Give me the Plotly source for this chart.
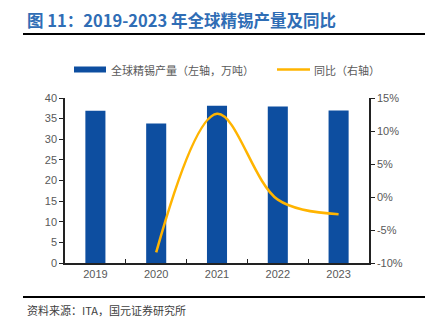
import plotly.graph_objects as go

years = ["2019", "2020", "2021", "2022", "2023"]
production = [36.9, 33.8, 38.1, 37.95, 37.0]
yoy_years = ["2020", "2021", "2022", "2023"]
yoy = [-8.4, 12.6, -0.4, -2.6]

left_ticks = [0, 5, 10, 15, 20, 25, 30, 35, 40]
right_ticks = [-10, -5, 0, 5, 10, 15]
right_labels = ["-10%", "-5%", "0%", "5%", "10%", "15%"]

BLUE = "#0D4EA0"
YELLOW = "#FFB400"
GRAY = "#595959"
CJK = "Noto Sans CJK SC"

W, H = 435, 322
L, R, T, B = 65, 369, 98, 263
pw, ph = R - L, B - T

def px(x):
    return (x - L) / pw

def py(y):
    return (B - y) / ph

fig = go.Figure()
fig.add_trace(go.Bar(x=years, y=production, marker=dict(color=BLUE, line=dict(width=0)),
                     width=0.33, name="全球精锡产量（左轴，万吨）", showlegend=False))
fig.add_trace(go.Scatter(x=yoy_years, y=yoy, mode="lines", yaxis="y2",
                         line=dict(color=YELLOW, width=2.5, shape="spline", smoothing=1.0),
                         name="同比（右轴）", showlegend=False))

axis_font = dict(family="Liberation Sans, Arial", size=11, color=GRAY)

fig.update_layout(
    width=W, height=H,
    margin=dict(l=L, r=W - R, t=T, b=H - B),
    paper_bgcolor="white", plot_bgcolor="white",
    xaxis=dict(type="category", showgrid=False, showline=True, linecolor="#222222", linewidth=1.5,
               ticks="inside", tickson="boundaries", ticklen=4, tickcolor="#222222",
               tickfont=axis_font, zeroline=False),
    yaxis=dict(range=[0, 40], tickvals=left_ticks, showgrid=False, showline=True,
               linecolor="#222222", linewidth=1.5, ticks="outside", ticklen=4,
               tickcolor="#222222", tickfont=axis_font, zeroline=False),
    yaxis2=dict(range=[-10, 15], tickvals=right_ticks, ticktext=right_labels, overlaying="y",
                side="right", showgrid=False, showline=True, linecolor="#222222", linewidth=1.5,
                ticks="outside", ticklen=4, tickcolor="#222222", tickfont=axis_font,
                zeroline=False),
    bargap=0.67,
)

shapes = [
    dict(type="line", xref="paper", yref="paper", x0=px(23), x1=px(425), y0=py(34), y1=py(34),
         line=dict(color="black", width=2)),
    dict(type="line", xref="paper", yref="paper", x0=px(23), x1=px(425), y0=py(297), y1=py(297),
         line=dict(color="black", width=2)),
    dict(type="rect", xref="paper", yref="paper", x0=px(74), x1=px(106), y0=py(72.5), y1=py(66.5),
         fillcolor=BLUE, line=dict(width=0)),
    dict(type="line", xref="paper", yref="paper", x0=px(277), x1=px(310), y0=py(69.5), y1=py(69.5),
         line=dict(color=YELLOW, width=2.5)),
]
fig.update_layout(shapes=shapes)

annotations = [
    dict(text="<b>图 11：2019-2023 年全球精锡产量及同比</b>", x=px(25), y=py(20), xref="paper", yref="paper",
         xanchor="left", yanchor="middle", showarrow=False,
         font=dict(family=CJK, size=16.5, color="#2F6DB5")),
    dict(text="全球精锡产量（左轴，万吨）", x=px(109), y=py(69.5), xref="paper", yref="paper",
         xanchor="left", yanchor="middle", showarrow=False,
         font=dict(family=CJK, size=11, color=GRAY)),
    dict(text="同比（右轴）", x=px(312), y=py(69.5), xref="paper", yref="paper",
         xanchor="left", yanchor="middle", showarrow=False,
         font=dict(family=CJK, size=11, color=GRAY)),
    dict(text="资料来源：ITA，国元证券研究所", x=px(25), y=py(310), xref="paper", yref="paper",
         xanchor="left", yanchor="middle", showarrow=False,
         font=dict(family=CJK, size=11, color="#404040")),
]
fig.update_layout(annotations=annotations)

fig.write_html("out.html")
